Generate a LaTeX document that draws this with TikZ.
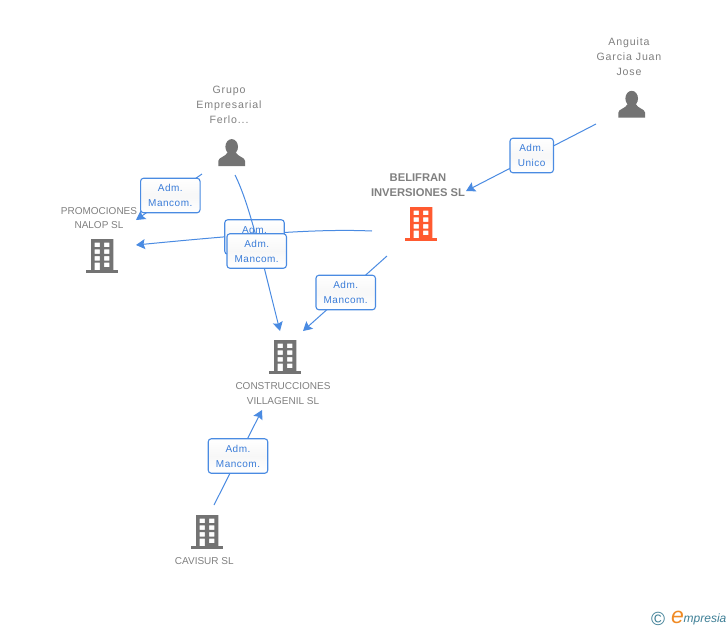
\documentclass[tikz,border=0pt]{standalone}
\usepackage{fontspec}
\setmainfont{Liberation Sans}
\newfontfamily\lblfont[LetterSpace=5]{Liberation Sans}
\newfontfamily\namefont[LetterSpace=8]{Liberation Sans}
\usetikzlibrary{arrows.meta}
\definecolor{edgeblue}{HTML}{4A8BE2}
\definecolor{lbltext}{HTML}{3A7CD8}
\definecolor{icongray}{HTML}{737373}
\definecolor{txtgray}{HTML}{808080}
\definecolor{accent}{HTML}{FF5A30}
\definecolor{logoteal}{HTML}{3E7F96}
\definecolor{logoorange}{HTML}{F08A24}
\tikzset{
  edgeline/.style={draw=edgeblue,line width=1pt,-{Stealth[length=9pt,width=10pt,inset=1.5pt]}},
  lblbox/.style={draw=edgeblue,line width=1.1pt,rounded corners=3pt,top color=white,bottom color=white,middle color=black!3,
     minimum width=59.5pt,minimum height=34.5pt,inner sep=0pt,align=center,text=lbltext,
     font=\lblfont\fontsize{10}{15}\selectfont},
  personname/.style={text=txtgray,align=center,inner sep=0pt,font=\namefont\fontsize{10.6}{15}\selectfont},
  companyname/.style={text=txtgray,align=center,inner sep=0pt,font=\fontsize{10}{14.5}\selectfont},
  mainname/.style={text=txtgray,align=center,inner sep=0pt,font=\bfseries\fontsize{11.2}{15}\selectfont},
  pics/building/.style={code={
    \fill[#1] (-15.7,30.5) rectangle (15.7,34);
    \fill[#1,even odd rule] (-11,0) rectangle (11.3,31)
      (-7.3,3.7) rectangle (-2.1,8.2) (2.1,3.7) rectangle (7.3,8.2)
      (-7.3,10.4) rectangle (-2.1,14.9) (2.1,10.4) rectangle (7.3,14.9)
      (-7.3,17) rectangle (-2.1,21.5) (2.1,17) rectangle (7.3,21.5)
      (-7.3,23.7) rectangle (-2.1,31) (2.1,23.7) rectangle (7.3,28.2);
  }},
  pics/person/.style={code={
    \fill[icongray] (0,7.5) ellipse (6.3 and 7.7);
    \fill[icongray] (-13.3,26.7) -- (-13.3,21.5) .. controls (-13.3,18) and (-6,17.5) .. (-4,13)
       -- (4,13) .. controls (6,17.5) and (13.3,18) .. (13.3,21.5) -- (13.3,26.7) -- cycle;
  }}
}
\begin{document}
\begin{tikzpicture}[x=1pt,y=-1pt]
\useasboundingbox (0,0) rectangle (728,630);
\fill[white] (0,0) rectangle (728,630);

% icons
\pic at (421,207) {building=accent};
\pic at (102,239) {building=icongray};
\pic at (285,340) {building=icongray};
\pic at (207,515) {building=icongray};
\pic at (631.7,91) {person};
\pic at (231.7,139.3) {person};

% names
\node[personname] (grupo) at (229,105) {Grupo\\Empresarial\\Ferlo...};
\node[personname] (anguita) at (629,57) {Anguita\\Garcia Juan\\Jose};
\node[mainname] (belifran) at (418,185.5) {BELIFRAN\\INVERSIONES SL};
\node[companyname] (promo) at (99,218) {PROMOCIONES\\NALOP SL};
\node[companyname] (constr) at (283,393.5) {CONSTRUCCIONES\\VILLAGENIL SL};
\node[companyname] (cavisur) at (204.3,561) {CAVISUR SL};

% connector ends
\coordinate (aS) at (596,124);
\coordinate (aT) at (466,191);
\coordinate (bS) at (387,256);
\coordinate (bT) at (303,331);
\coordinate (cS) at (372,231);
\coordinate (cT) at (136,245);
\coordinate (dS) at (202,174);
\coordinate (dT) at (136,220);
\coordinate (eS) at (235,175);
\coordinate (eT) at (280,331);
\coordinate (fS) at (214,505);
\coordinate (fT) at (262,410);

% connectors and labels
\draw[edgeline] (aS) -- (aT);
\node[lblbox,minimum width=43.5pt] (l1) at (531.7,155.5) {Adm.\\Unico};
\draw[edgeline] (bS) -- (bT);
\node[lblbox] (l2) at (345.7,292.5) {Adm.\\Mancom.};
\draw[edgeline] (dS) -- (dT);
\node[lblbox] (l3) at (170.3,195.5) {Adm.\\Mancom.};
\draw[edgeline] (fS) -- (fT);
\node[lblbox] (l4) at (238,456) {Adm.\\Mancom.};
\draw[edgeline] (cS) .. controls (325,229) and (270,232) .. (cT);
\node[lblbox] (l5) at (254.5,237) {Adm.\\\phantom{Mancom.}};
\draw[edgeline] (eS) .. controls (250,205) and (262,260) .. (eT);
\node[lblbox] (l6) at (256.7,251) {Adm.\\Mancom.};

% logo
\node[text=logoteal,inner sep=0pt,font=\fontsize{19}{19}\selectfont] (copy) at (658,619) {©};
\node[text=logoorange,inner sep=0pt,font=\itshape\fontsize{23}{23}\selectfont] (elogo) at (677.5,617) {e};
\node[text=logoteal,inner sep=0pt,anchor=west,font=\itshape\fontsize{12}{12}\selectfont] (presia) at (683.5,619.5) {mpresia};
\end{tikzpicture}
\end{document}
